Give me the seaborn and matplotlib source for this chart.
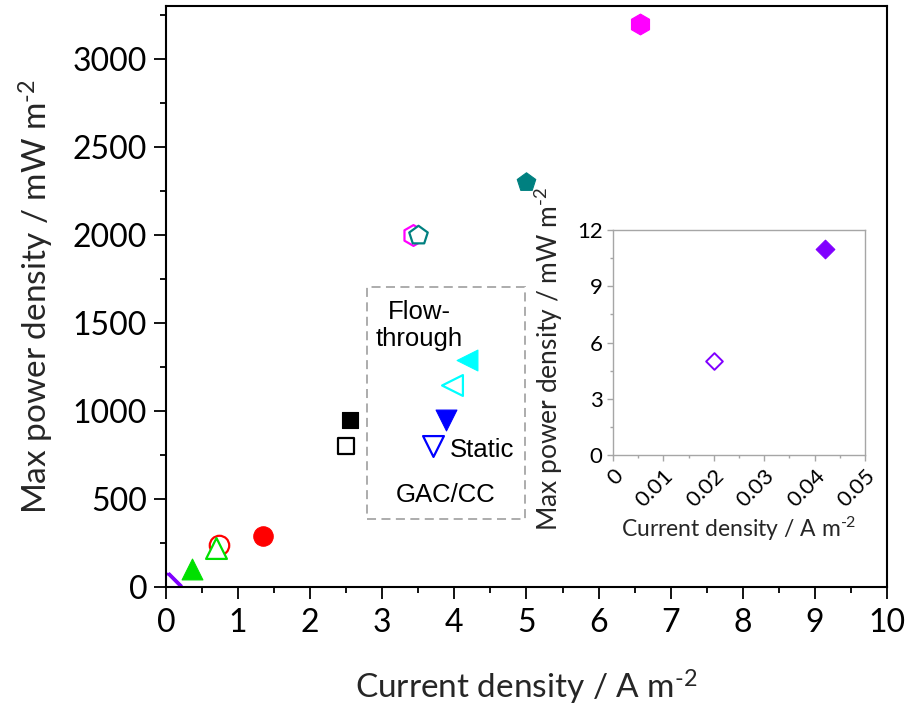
import numpy as np
import pandas as pd
import matplotlib
matplotlib.use("Agg")
import matplotlib.pyplot as plt
import seaborn as sns
from matplotlib.patches import Rectangle
from matplotlib.ticker import MultipleLocator

# ---------------- data ----------------
# main panel points (drawing order)
pt_x = [0.042, 0.02, 0.36, 0.73, 0.69, 1.34, 2.50, 2.55, 3.70, 3.89, 3.97, 4.17, 3.43, 3.50, 5.00, 6.57]
pt_y = [11, 5, 100, 240, 220, 290, 800, 950, 800, 950, 1150, 1290, 2000, 2000, 2300, 3200]
pt_filled = [True, False, True, False, False, True, False, True, False, True, False, True, False, False, True, True]

# inset points
inset_x = [0.02, 0.042]
inset_y = [5, 11]
inset_filled = [False, True]

x_ticks = [0, 1, 2, 3, 4, 5, 6, 7, 8, 9, 10]
y_ticks = [0, 500, 1000, 1500, 2000, 2500, 3000]
inset_x_ticks = [0, 0.01, 0.02, 0.03, 0.04, 0.05]
inset_x_labels = ["0", "0.01", "0.02", "0.03", "0.04", "0.05"]
inset_y_ticks = [0, 3, 6, 9, 12]

# box annotation (data units)
box_x0, box_x1 = 2.79, 4.98
box_y0, box_y1 = 386, 1705
note_flow = (3.51, 1483)
note_static = (4.39, 778)
note_gac = (3.88, 520)

# ---------------- styles ----------------
pt_marker = ["D", "D", "^", "o", "^", "o", "s", "s", "v", "v", "<", "<", "h", "p", "p", "h"]
pt_color = ["#8000FF", "#8000FF", "#00E000", "#FF0000", "#00E000", "#FF0000", "#000000", "#000000",
            "#0000FF", "#0000FF", "#00FFFF", "#00FFFF", "#FF00FF", "#008080", "#008080", "#FF00FF"]
pt_msize = [13, 13, 15, 14, 15, 14, 12, 12, 15, 15, 15, 15, 15, 14, 14, 15]

sns.set_style("ticks")
plt.rcParams["font.family"] = ["Lato", "DejaVu Sans"]
plt.rcParams["mathtext.fontset"] = "custom"
plt.rcParams["mathtext.rm"] = "Lato"
plt.rcParams["mathtext.it"] = "Lato:italic"
plt.rcParams["mathtext.bf"] = "Lato:bold"

SUP = "$\\mathregular{^{\u20102}}$"
xlab = "Current density / A m" + SUP
ylab = "Max power density / mW m" + SUP

fig = plt.figure(figsize=(9.11, 7.06), dpi=100)
ax = fig.add_axes([0.1822, 0.1686, 0.7914, 0.8229])

for xi, yi, f, m, c, ms in zip(pt_x, pt_y, pt_filled, pt_marker, pt_color, pt_msize):
    sns.scatterplot(x=[xi], y=[yi], ax=ax, marker=m, s=ms ** 2, color=c,
                    facecolor=c if f else "white", edgecolor=c,
                    linewidth=0.8 if f else 1.6, zorder=3, clip_on=True, legend=False)

ax.set_xlim(0, 10)
ax.set_ylim(0, 3300)
ax.set_xticks(x_ticks)
ax.set_yticks(y_ticks)
ax.xaxis.set_minor_locator(MultipleLocator(0.5))
ax.yaxis.set_minor_locator(MultipleLocator(250))
for s in ax.spines.values():
    s.set_color("black")
    s.set_linewidth(1.5)
    s.set_zorder(5)
ax.tick_params(which="both", direction="out", color="black", width=1.3,
               labelsize=23, labelcolor="black", top=False, right=False)
ax.tick_params(which="major", length=8.5)
ax.tick_params(axis="x", which="major", pad=7)
ax.tick_params(axis="y", which="major", pad=5)
ax.tick_params(which="minor", length=4.3)
ax.set_xlabel(xlab, fontsize=24, labelpad=21)
ax.set_ylabel(ylab, fontsize=24, labelpad=12)

ax.add_patch(Rectangle((box_x0, box_y0), box_x1 - box_x0, box_y1 - box_y0, fill=False,
                       edgecolor="#A6A6A6", linestyle=(0, (5, 3)), linewidth=1.3, zorder=2))
tfont = dict(family=["Liberation Sans", "DejaVu Sans"], fontsize=18.5, color="black")
ax.text(*note_flow, "Flow-\nthrough", ha="center", va="center", linespacing=1.15, **tfont)
ax.text(*note_static, "Static", ha="center", va="center", **tfont)
ax.text(*note_gac, "GAC/CC", ha="center", va="center", **tfont)

# ---------------- inset ----------------
ins = fig.add_axes([0.6729, 0.3555, 0.2766, 0.3187])
for xi, yi, f in zip(inset_x, inset_y, inset_filled):
    sns.scatterplot(x=[xi], y=[yi], ax=ins, marker="D", s=(9.5 if f else 8.5) ** 2, color="#8000FF",
                    facecolor="#8000FF" if f else "white", edgecolor="#8000FF",
                    linewidth=0.8 if f else 1.4, zorder=3, legend=False)
ins.set_xlim(0, 0.05)
ins.set_ylim(0, 12)
ins.set_xticks(inset_x_ticks)
ins.set_xticklabels(inset_x_labels, rotation=45, ha="right", rotation_mode="anchor")
ins.set_yticks(inset_y_ticks)
ins.xaxis.set_minor_locator(MultipleLocator(0.005))
ins.yaxis.set_minor_locator(MultipleLocator(1.5))
for s in ins.spines.values():
    s.set_color("#A6A6A6")
    s.set_linewidth(1.0)
ins.tick_params(which="both", direction="out", color="#A6A6A6", width=1.0,
                labelsize=16, labelcolor="black", top=False, right=False)
ins.tick_params(which="major", length=4.5, pad=3)
ins.tick_params(which="minor", length=2.5)
ins.set_xlabel(xlab, fontsize=16.5, labelpad=3)
ins.set_ylabel(ylab, fontsize=19)
ins.yaxis.set_label_coords(-0.19, 0.427)

fig.savefig("out.png", dpi=100)
